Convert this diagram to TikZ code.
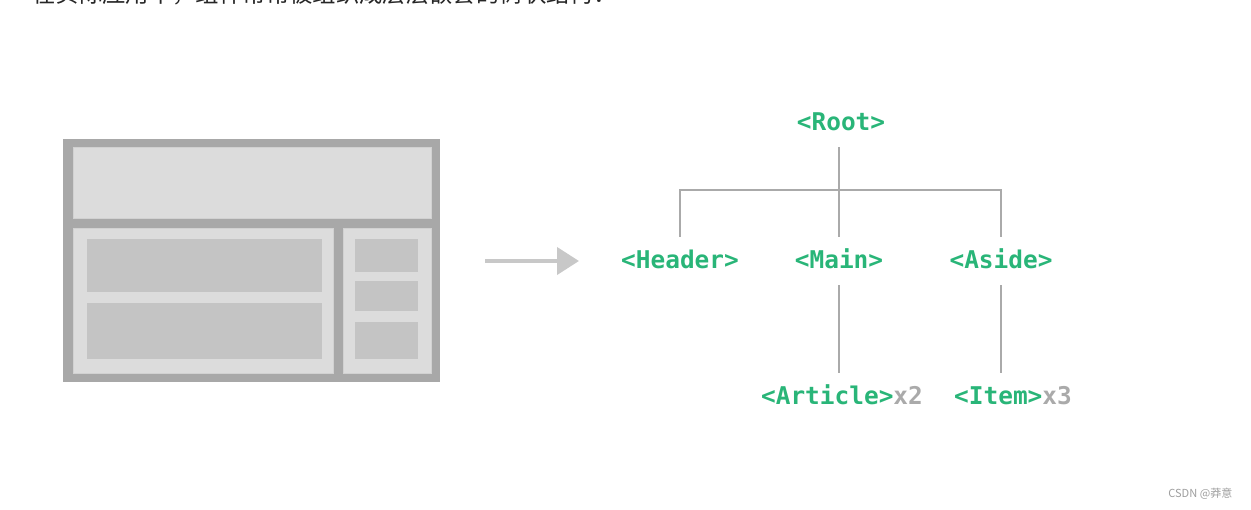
\documentclass[tikz,border=0pt]{standalone}
\usepackage{xcolor}
\usepackage{fontspec}
\usetikzlibrary{arrows.meta}
\newfontfamily\tagfont{DejaVu Sans Mono Bold}
\newfontfamily\cjkfont{Noto Sans CJK SC}

\definecolor{vuegreen}{RGB}{41,181,120}
\definecolor{mulgray}{RGB}{170,170,170}
\definecolor{framegray}{RGB}{168,168,168}
\definecolor{panelgray}{RGB}{220,220,220}
\definecolor{blockgray}{RGB}{196,196,196}
\definecolor{arrowgray}{RGB}{200,200,200}

\tikzset{
  tag/.style={inner sep=0pt, minimum height=0.96cm, text height=0.95em, text depth=0.05em,
    font=\tagfont\fontsize{13.9pt}{14pt}\selectfont, text=vuegreen},
  branch/.style={draw=mulgray, line width=0.85pt},
  panel/.style={fill=panelgray, draw=black!18, line width=0.4pt},
  block/.style={fill=blockgray}
}

\begin{document}
\begin{tikzpicture}[x=0.02cm,y=-0.02cm]

    \useasboundingbox (0,0) rectangle (1251,510);
          % page in pixel coordinates, y runs down

    \node[anchor=base west, inner sep=0pt, text=black!85,
      font=\cjkfont\fontsize{13.3pt}{14pt}\selectfont] (intro) at (32,3)
      {在实际应用中，组件常常被组织成层层嵌套的树状结构：};
          % the line cut off by the top edge

    % the page layout on the left
    \fill[framegray] (63,139) rectangle (440,382);
    \filldraw[panel] (73,147) rectangle (431,218);   % header
    \filldraw[panel] (73,228) rectangle (333,373);   % main
    \filldraw[panel] (343,228) rectangle (431,373);  % aside
    \fill[block] (87,239) rectangle (322,292);
    \fill[block] (87,303) rectangle (322,359);
    \foreach \ya/\yb in {239/272, 281/311, 322/359}{% items of the aside
      \fill[block] (355,\ya) rectangle (418,\yb);
    }

    \coordinate (arrowtail) at (485,261);
    \coordinate (arrowtip) at (579,261);
    \draw[arrowgray, line width=2.3pt, -{Triangle[length=0.44cm,width=0.54cm]}]
      (arrowtail) -- (arrowtip);

    % the component tree
    \node[tag] (root) at (841,123) {<Root>};
    \node[tag] (header) at (680,261) {<Header>};
    \node[tag] (main) at (839,261) {<Main>};
    \node[tag] (aside) at (1001,261) {<Aside>};
    \node[tag] (article) at (842,397) {<Article>\textcolor{mulgray}{x2}};
    \node[tag] (item) at (1013,397) {<Item>\textcolor{mulgray}{x3}};

    \coordinate (fork) at (main.north |- 0,190);
    \draw[branch] (root.south -| main) -- (main.north);
    \draw[branch] (header.north) |- (fork) -| (aside.north);
    \draw[branch] (main.south) -- (main.south |- article.north);
    \draw[branch] (aside.south) -- (aside.south |- item.north);

    \node[anchor=west, inner sep=0pt, text=black!38,
      font=\cjkfont\fontsize{6.3pt}{7pt}\selectfont] (mark) at (1168,494) {CSDN @莽意};

\end{tikzpicture}
\end{document}
